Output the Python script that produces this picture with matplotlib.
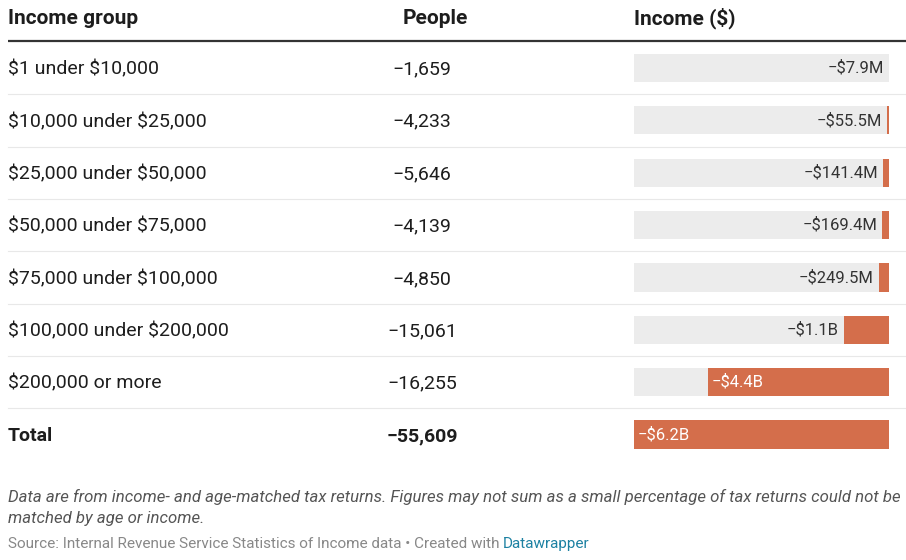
import matplotlib
matplotlib.use("Agg")
import matplotlib.pyplot as plt

# table data
groups = ["$1 under $10,000", "$10,000 under $25,000", "$25,000 under $50,000",
          "$50,000 under $75,000", "$75,000 under $100,000", "$100,000 under $200,000",
          "$200,000 or more", "Total"]
people = [-1659, -4233, -5646, -4139, -4850, -15061, -16255, -55609]
income_m = [7.9, 55.5, 141.4, 169.4, 249.5, 1100, 4400, 6200]  # millions, negative
income_labels = ["−$7.9M", "−$55.5M", "−$141.4M", "−$169.4M", "−$249.5M",
                 "−$1.1B", "−$4.4B", "−$6.2B"]

W, H = 906, 560
plt.rcParams["font.family"] = ["Roboto", "DejaVu Sans"]
plt.rcParams["text.parse_math"] = False

fig = plt.figure(figsize=(W / 100, H / 100), dpi=100)
fig.patch.set_facecolor("white")

# background axes in pixel coords for the table text and rules
bg = fig.add_axes([0, 0, 1, 1])
bg.set_xlim(0, W)
bg.set_ylim(H, 0)
bg.axis("off")

row0, row_h = 68, 52.35
n = len(groups)
dark = "#1d1d1d"
orange = "#d46e4b"
grey_bg = "#ececec"

for x, h in [(8, "Income group"), (403, "People"), (634, "Income ($)")]:
    bg.text(x, 18.5, h, fontsize=15, fontweight="bold", color=dark, va="center", ha="left")
bg.plot([8, W], [41, 41], color="#333333", lw=1.6, solid_capstyle="butt")

for i, (g, p) in enumerate(zip(groups, people)):
    y = row0 + i * row_h
    bold = "bold" if g == "Total" else "normal"
    bg.text(8, y + 1.5, g, fontsize=14, color=dark, va="center", ha="left", fontweight=bold)
    bg.text(422, y + 1.5, f"{p:,}".replace("-", "−"), fontsize=14, color=dark,
            va="center", ha="center", fontweight=bold)
    if i < n - 1:
        bg.plot([8, W], [y + row_h / 2, y + row_h / 2], color="#e8e8e8", lw=0.8)

# bar axes
top_px = row0 - row_h / 2
bot_px = row0 + (n - 1) * row_h + row_h / 2
ax = fig.add_axes([634 / W, 1 - bot_px / H, 255 / W, (bot_px - top_px) / H])
ax.set_xlim(max(income_m), 0)
ax.set_ylim(n - 0.5, -0.5)
ax.axis("off")
ax.patch.set_alpha(0)

ypos = list(range(n))
ax.barh(ypos, [max(income_m)] * n, height=0.54, color=grey_bg, lw=0)
ax.barh(ypos, income_m, height=0.54, color=orange, lw=0)

for i, (v, lab) in enumerate(zip(income_m, income_labels)):
    if v / max(income_m) > 0.3:
        ax.annotate(lab, (v, i), xytext=(2.5, 0), textcoords="offset points",
                    ha="left", va="center", fontsize=12, color="white")
    else:
        ax.annotate(lab, (v, i), xytext=(-3.5, 0), textcoords="offset points",
                    ha="right", va="center", fontsize=12, color="#333333")

# footer notes
note = ("Data are from income- and age-matched tax returns. Figures may not sum as a small "
        "percentage of tax returns could not be")
bg.text(8, 497, note, fontsize=12.1, style="italic", color="#555555", va="center", ha="left")
bg.text(8, 518, "matched by age or income.", fontsize=12.1, style="italic", color="#555555",
        va="center", ha="left")
src = bg.text(8, 544, "Source: Internal Revenue Service Statistics of Income data • Created with ",
              fontsize=11, color="#888888", va="center", ha="left")
fig.canvas.draw()
bb = src.get_window_extent()
bg.text(bb.x1, 544, "Datawrapper", fontsize=11, color="#1d81a2", va="center", ha="left")

fig.savefig("out.png", dpi=100)
